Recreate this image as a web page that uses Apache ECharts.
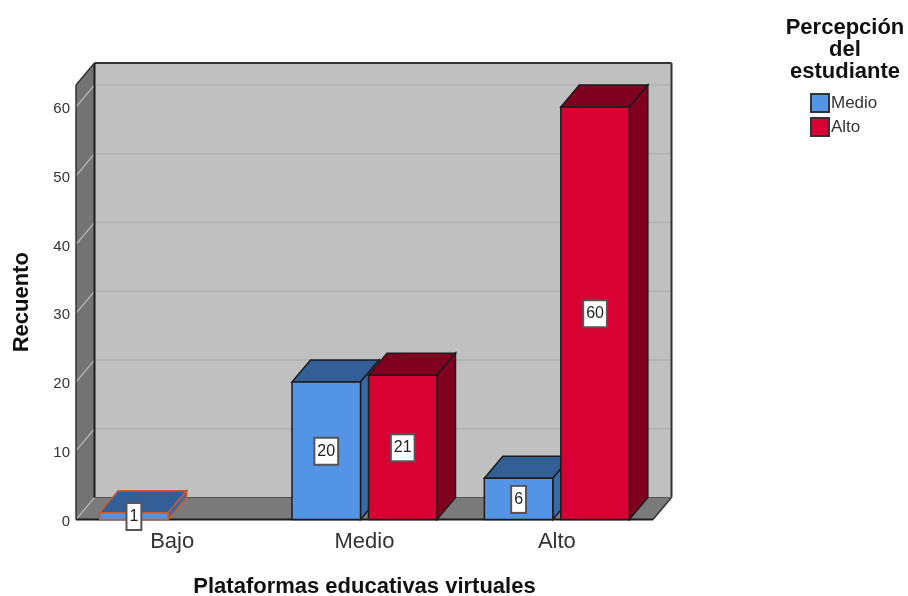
<!DOCTYPE html>
<html><head><meta charset="utf-8">
<style>html,body{margin:0;padding:0;background:#fff}#c{width:908px;height:596px}</style>
<script src="https://cdn.jsdelivr.net/npm/echarts@6/dist/echarts.min.js"></script>
</head><body><div id="c"></div>
<script>
var categories = ['Bajo', 'Medio', 'Alto'];
var medioValues = [1, 20, 6];
var altoValues = [null, 21, 60];
var yTicks = [0, 10, 20, 30, 40, 50, 60];
var xTitle = 'Plataformas educativas virtuales';
var yTitle = 'Recuento';
var legendTitle = 'Percepción\ndel\nestudiante';

var DX = 18.5, DY = -22;
var FONT = '"Liberation Sans", Arial, sans-serif';
var BAR_W = 68.5, GAP = 8;
var DARK = '#1c1c1c';

function poly(points, fill, stroke, lw) {
  return { type: 'polygon', shape: { points: points },
    style: { fill: fill, stroke: stroke || null, lineWidth: lw === undefined ? 1 : lw } };
}
function line(x1, y1, x2, y2, stroke, lw) {
  return { type: 'line', shape: { x1: x1, y1: y1, x2: x2, y2: y2 },
    style: { stroke: stroke, lineWidth: lw || 1 } };
}
function renderWalls(params, api) {
  var cs = params.coordSys;
  var L = cs.x, R = cs.x + cs.width, T = cs.y, B = cs.y + cs.height;
  var kids = [
    poly([[L + DX, T + DY], [R + DX, T + DY], [R + DX, B + DY], [L + DX, B + DY]], '#c0c0c0'),
    poly([[L, T], [L + DX, T + DY], [L + DX, B + DY], [L, B]], '#737373'),
    poly([[L, B], [L + DX, B + DY], [R + DX, B + DY], [R, B]], '#7b7b7b')
  ];
  yTicks.forEach(function (v) {
    var y = api.coord([0, v])[1];
    kids.push(line(L, y, L + DX, y + DY, '#b4b4b4', 1.2));
    if (v > 0) kids.push(line(L + DX, y + DY, R + DX, y + DY, '#b0b0b0', 1.5));
  });
  kids.push(line(L + DX, T + DY, R + DX, T + DY, '#333333', 2));
  kids.push(line(R + DX, T + DY, R + DX, B + DY, '#333333', 2));
  kids.push(line(L + DX, T + DY, L + DX, B + DY, DARK, 2));
  kids.push(line(L, T, L + DX, T + DY, '#333333', 1.5));
  kids.push(line(L, T, L, B, '#333333', 1.5));
  kids.push(line(L, B, R, B, DARK, 2));
  kids.push(line(R, B, R + DX, B + DY, '#333333', 1.5));
  kids.push(line(L + DX, B + DY, R + DX, B + DY, '#555555', 1));
  return { type: 'group', children: kids };
}
function barRenderer(slot, front, top, side) {
  return function (params, api) {
    var idx = api.value(0), val = api.value(1);
    var p0 = api.coord([idx, 0]), p1 = api.coord([idx, val]);
    var x0 = p0[0] + (slot === 0 ? -GAP / 2 - BAR_W : GAP / 2);
    var x1 = x0 + BAR_W, yB = p0[1], yT = p1[1];
    var edge = val < 3 ? '#cc5a2a' : DARK;
    var text = String(val);
    return { type: 'group', children: [
      poly([[x0, yT], [x0 + DX, yT + DY], [x1 + DX, yT + DY], [x1, yT]], top, edge, 1.5),
      poly([[x1, yT], [x1 + DX, yT + DY], [x1 + DX, yB + DY], [x1, yB]], side, edge, 1.5),
      poly([[x0, yT], [x1, yT], [x1, yB], [x0, yB]], front, edge, 1.5),
      { type: 'text', z2: 10,
        style: { x: (x0 + x1) / 2, y: val < 3 ? yB - 3 : (yT + yB) / 2 + 0.5, text: text,
          align: 'center', verticalAlign: 'middle', font: '16px ' + FONT, fill: '#222',
          backgroundColor: '#fff', borderColor: '#555', borderWidth: 2,
          padding: [5, 2, 4, 2] } }
    ] };
  };
}
function toPairs(arr) {
  var out = [];
  arr.forEach(function (v, i) { if (v !== null) out.push([i, v]); });
  return out;
}

var chart = echarts.init(document.getElementById('c'), null, { renderer: 'canvas' });
chart.setOption({
  animation: false,
  backgroundColor: '#fff',
  title: {
    text: legendTitle, left: 845, top: 17, textAlign: 'center', padding: 0,
    textStyle: { fontFamily: FONT, fontSize: 22, fontWeight: 'bold', color: '#111', lineHeight: 22 }
  },
  legend: {
    orient: 'vertical', left: 810, top: 93, padding: 0, itemWidth: 18, itemHeight: 18, itemGap: 4,
    selectedMode: false, data: ['Medio', 'Alto'], icon: 'rect',
    textStyle: { fontFamily: FONT, fontSize: 17, color: '#333', padding: [5, 0, 0, -3] }
  },
  grid: { left: 76, right: 255, top: 85, bottom: 76.5, containLabel: false, outerBoundsMode: 'none' },
  xAxis: {
    type: 'category', data: categories,
    name: xTitle, nameLocation: 'middle', nameGap: 56,
    nameTextStyle: { fontFamily: FONT, fontSize: 22, fontWeight: 'bold', color: '#111' },
    axisLine: { show: false }, axisTick: { show: false },
    axisLabel: { fontFamily: FONT, fontSize: 22, color: '#333', margin: 11 },
    splitLine: { show: false }
  },
  yAxis: {
    type: 'value', min: 0, max: 63.2, interval: 10,
    name: yTitle, nameLocation: 'middle', nameGap: 43, nameRotate: 90,
    nameTextStyle: { fontFamily: FONT, fontSize: 22, fontWeight: 'bold', color: '#111' },
    axisLine: { show: false }, axisTick: { show: false },
    axisLabel: { margin: 6, showMaxLabel: false, formatter: '{v|{value}}',
      rich: { v: { fontFamily: FONT, fontSize: 15, color: '#333', padding: [4, 0, 0, 0] } } },
    splitLine: { show: false }
  },
  series: [
    { type: 'custom', name: 'walls', renderItem: renderWalls, data: [[0, 0]], z: 1, silent: true, clip: false },
    { type: 'custom', name: 'Medio', z: 2, clip: false,
      renderItem: barRenderer(0, '#5394e6', '#335e96', '#3a6aa6'),
      itemStyle: { color: '#5394e6', borderColor: '#333', borderWidth: 1 },
      encode: { x: 0, y: 1 }, data: toPairs(medioValues) },
    { type: 'custom', name: 'Alto', z: 3, clip: false,
      renderItem: barRenderer(1, '#d90033', '#80001f', '#80001f'),
      itemStyle: { color: '#d90033', borderColor: '#333', borderWidth: 1 },
      encode: { x: 0, y: 1 }, data: toPairs(altoValues) }
  ]
});
</script></body></html>
